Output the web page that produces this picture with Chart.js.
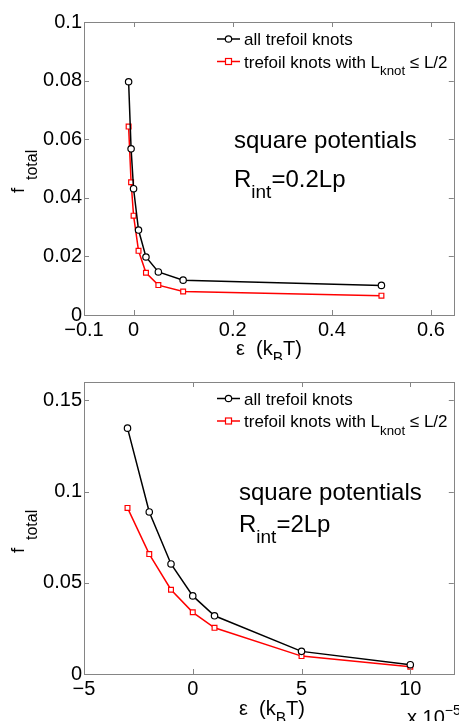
<!DOCTYPE html>
<html>
<head>
<meta charset="utf-8">
<script src="https://cdn.jsdelivr.net/npm/chart.js@4"></script>
<style>
  html, body { margin: 0; padding: 0; background: #fff; }
  body { width: 459px; height: 721px; position: relative; overflow: hidden; }
  .box { position: absolute; left: 0; width: 459px; }
  canvas { display: block; }
</style>
</head>
<body>
<div class="box" style="top:0;height:360px"><canvas id="topChart" width="459" height="360"></canvas></div>
<div class="box" style="top:360px;height:361px"><canvas id="bottomChart" width="459" height="361"></canvas></div>
<script>
// top panel: R_int = 0.2 Lp
const epsTop = [-0.01, -0.005, 0, 0.01, 0.025, 0.05, 0.1, 0.5];
const allTop = [0.0796, 0.0567, 0.0431, 0.0290, 0.0198, 0.0147, 0.0119, 0.0101];
const shortTop = [0.0643, 0.0453, 0.0339, 0.0219, 0.0144, 0.0102, 0.0080, 0.0066];
const xTicksTop = [-0.1, 0, 0.2, 0.4, 0.6];
const yTicksTop = [0, 0.02, 0.04, 0.06, 0.08, 0.1];

// bottom panel: R_int = 2 Lp, eps in units of 1e-5 kBT
const epsBottom = [-3, -2, -1, 0, 1, 5, 10];
const allBottom = [0.1347, 0.0888, 0.0603, 0.0428, 0.0319, 0.0124, 0.0051];
const shortBottom = [0.0910, 0.0657, 0.0462, 0.0338, 0.0253, 0.0098, 0.0040];
const xTicksBottom = [-5, 0, 5, 10];
const yTicksBottom = [0, 0.05, 0.1, 0.15];

const SANS = '"Liberation Sans", Arial, sans-serif';
const FRAME = '#858585';

// draws text made of parts, some in subscript / superscript; y is the baseline
function drawRich(ctx, x, y, parts, size) {
    let cx = x;
    ctx.textBaseline = 'alphabetic';
    ctx.textAlign = 'left';
    parts.forEach(p => {
        const s = p.size || ((p.sub || p.sup) ? size * 0.78 : size);
        ctx.font = `${s}px ${SANS}`;
        const dy = p.sub ? size * 0.45 : (p.sup ? -size * 0.45 : 0);
        ctx.fillText(p.t, cx, y + dy);
        cx += ctx.measureText(p.t).width;
    });
    return cx - x;
}

// box round the axes with inward tick marks on all four sides
const framePlugin = {
    id: 'frame',
    afterDatasetsDraw(chart) {
        const { ctx, chartArea: a, scales } = chart;
        ctx.save();
        ctx.strokeStyle = FRAME;
        ctx.lineWidth = 1;
        ctx.strokeRect(Math.round(a.left) + 0.5, Math.round(a.top) + 0.5,
            Math.round(a.right - a.left), Math.round(a.bottom - a.top));
        const len = 5;
        ctx.beginPath();
        scales.x.ticks.forEach(t => {
            const px = Math.round(scales.x.getPixelForValue(t.value)) + 0.5;
            ctx.moveTo(px, a.bottom); ctx.lineTo(px, a.bottom - len);
            ctx.moveTo(px, a.top); ctx.lineTo(px, a.top + len);
        });
        scales.y.ticks.forEach(t => {
            const py = Math.round(scales.y.getPixelForValue(t.value)) + 0.5;
            ctx.moveTo(a.left, py); ctx.lineTo(a.left + len, py);
            ctx.moveTo(a.right, py); ctx.lineTo(a.right - len, py);
        });
        ctx.stroke();
        ctx.restore();
    }
};

// legend, annotation and axis titles (need subscripts, so drawn by hand)
const textPlugin = {
    id: 'texts',
    afterDraw(chart) {
        const o = chart.options.plugins.texts;
        const ctx = chart.ctx;
        ctx.save();
        ctx.fillStyle = '#000';

        // legend
        const rows = [
            { color: '#000', style: 'circle', parts: [{ t: 'all trefoil knots' }] },
            { color: '#ff0000', style: 'rect', parts: [{ t: 'trefoil knots with L' }, { t: 'knot', sub: true }, { t: ' \u2264 L/2' }] }
        ];
        rows.forEach((r, i) => {
            const base = o.legendY[i];
            const ly = base - 6;
            ctx.strokeStyle = r.color;
            ctx.lineWidth = 1.5;
            ctx.beginPath();
            ctx.moveTo(217, ly); ctx.lineTo(240, ly);
            ctx.stroke();
            ctx.lineWidth = 1.2;
            ctx.fillStyle = '#fff';
            if (r.style === 'circle') {
                ctx.beginPath();
                ctx.arc(228.5, ly, 3.2, 0, Math.PI * 2);
                ctx.fill(); ctx.stroke();
            } else {
                ctx.fillRect(225.5, ly - 3, 6, 6);
                ctx.strokeRect(225.5, ly - 3, 6, 6);
            }
            ctx.fillStyle = '#000';
            drawRich(ctx, 244, base, r.parts, 17);
        });

        // annotation
        drawRich(ctx, o.noteX, o.noteY[0], [{ t: 'square potentials' }], 24);
        drawRich(ctx, o.noteX, o.noteY[1], [{ t: 'R' }, { t: 'int', sub: true, size: 19 }, { t: o.rText }], 24);

        // x title
        drawRich(ctx, o.xTitleX, 355, [{ t: '\u03b5' }, { t: '  (k' }, { t: 'B', sub: true }, { t: 'T)' }], 20);

        // y title, rotated: f with a deep subscript
        ctx.translate(0, 0);
        ctx.rotate(-Math.PI / 2);
        ctx.textBaseline = 'alphabetic';
        ctx.textAlign = 'left';
        ctx.font = `19px ${SANS}`;
        ctx.fillText('f', -193, 24);
        ctx.font = `16px ${SANS}`;
        ctx.fillText('total', -180, 37);
        ctx.restore();

        if (o.exponent) {
            ctx.save();
            ctx.fillStyle = '#000';
            drawRich(ctx, 407, 364, [{ t: 'x 10' }, { t: '\u22125', sup: true, size: 14 }], 20);
            ctx.restore();
        }
    }
};

function fmt(v) {
    return v < 0 ? '\u2212' + String(Math.abs(v)) : String(v);
}

function makeChart(id, eps, all, short, xTicks, yTicks, xMin, xMax, yMax, xAxisH, texts) {
    return new Chart(document.getElementById(id), {
        type: 'line',
        data: {
            datasets: [
                {
                    label: 'all trefoil knots',
                    data: eps.map((x, i) => ({ x: x, y: all[i] })),
                    borderColor: '#000',
                    backgroundColor: '#fff',
                    borderWidth: 1.5,
                    pointStyle: 'circle',
                    pointRadius: 3.2,
                    pointBorderWidth: 1.2,
                    tension: 0
                },
                {
                    label: 'trefoil knots with Lknot <= L/2',
                    data: eps.map((x, i) => ({ x: x, y: short[i] })),
                    borderColor: '#ff0000',
                    backgroundColor: '#fff',
                    borderWidth: 1.5,
                    pointStyle: 'rect',
                    pointRadius: 3.4,
                    pointBorderWidth: 1.2,
                    tension: 0
                }
            ]
        },
        options: {
            responsive: false,
            animation: false,
            events: [],
            layout: { padding: { top: 22, right: 2, left: 0, bottom: 0 } },
            scales: {
                x: {
                    type: 'linear',
                    min: xMin,
                    max: xMax,
                    afterBuildTicks: s => { s.ticks = xTicks.map(v => ({ value: v })); },
                    afterFit: s => { s.height = xAxisH; },
                    grid: { display: false, drawTicks: false },
                    border: { display: false },
                    ticks: {
                        color: '#000',
                        padding: 3,
                        maxRotation: 0,
                        autoSkip: false,
                        font: { family: SANS, size: 20 },
                        callback: v => fmt(v)
                    }
                },
                y: {
                    type: 'linear',
                    min: 0,
                    max: yMax,
                    afterBuildTicks: s => { s.ticks = yTicks.map(v => ({ value: v })); },
                    afterFit: s => { s.width = 84; },
                    grid: { display: false, drawTicks: false },
                    border: { display: false },
                    ticks: {
                        color: '#000',
                        padding: 2,
                        autoSkip: false,
                        font: { family: SANS, size: 20 },
                        callback: v => fmt(v)
                    }
                }
            },
            plugins: {
                legend: { display: false },
                tooltip: { enabled: false },
                texts: texts
            }
        },
        plugins: [framePlugin, textPlugin]
    });
}

makeChart('topChart', epsTop, allTop, shortTop, xTicksTop, yTicksTop, -0.1, 0.646, 0.1, 45,
    { legendY: [45, 67.5], noteX: 234, noteY: [148, 187], rText: '=0.2Lp', xTitleX: 236, exponent: false });
makeChart('bottomChart', epsBottom, allBottom, shortBottom, xTicksBottom, yTicksBottom, -5, 12, 0.16, 47,
    { legendY: [44.5, 67], noteX: 239, noteY: [140, 172], rText: '=2Lp', xTitleX: 239, exponent: true });
</script>
</body>
</html>
